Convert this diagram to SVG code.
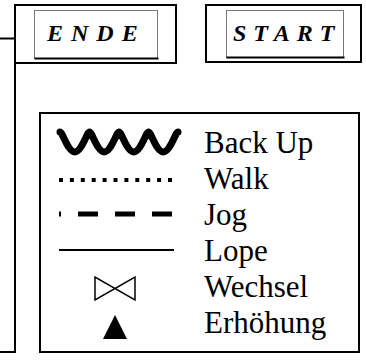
<svg xmlns="http://www.w3.org/2000/svg" width="366" height="360" viewBox="0 0 366 360">
<style>
.outer{fill:#fff;stroke:#000;stroke-width:2}
.inner{fill:#fff;stroke:#777;stroke-width:1}
.shadow{stroke:#000;stroke-width:2;fill:none}
.title{font-family:"Liberation Serif",serif;font-weight:bold;font-style:italic;font-size:24px;fill:#000}
.lbl{font-family:"Liberation Serif",serif;font-size:31px;fill:#000}
.ln{stroke:#000;stroke-width:2;fill:none}
</style>
<rect width="366" height="360" fill="#fff"/>
<g id="connectors">
<path class="ln" d="M0,38.5H15M15,63V352M0,352H16"/>
</g>
<g id="ende">
<rect class="outer" x="15" y="5" width="161" height="58"/>
<rect class="inner" x="34.5" y="10.5" width="123" height="48"/>
<path class="shadow" d="M34.5,58.5H158.5"/>
<text class="title" x="47" y="41" letter-spacing="8">ENDE</text>
</g>
<g id="start">
<rect class="outer" x="206" y="5" width="155" height="57"/>
<rect class="inner" x="226.5" y="10.5" width="117" height="47"/>
<path class="shadow" d="M226.5,57.5H344.5"/>
<text class="title" x="233" y="41" letter-spacing="7">START</text>
</g>
<g id="legend">
<rect x="40" y="113" width="319" height="239" fill="none" stroke="#000" stroke-width="2"/>
<path d="M60,132 C62.5,132 68,152 74.75,152 C81.5,152 87,132 89.5,132 C92,132 97.5,152 104.25,152 C111,152 116.5,132 119,132 C121.5,132 127,152 133.75,152 C140.5,152 146,132 148.5,132 C151,132 156.5,152 163.25,152 C170,152 175.5,132 178,132" fill="none" stroke="#000" stroke-width="7" stroke-linecap="round" stroke-linejoin="round"/>
<line x1="59" y1="180" x2="173" y2="180" stroke="#000" stroke-width="4" stroke-dasharray="4 6.9"/>
<line x1="59" y1="214" x2="61" y2="214" stroke="#000" stroke-width="5"/>
<line x1="78" y1="214" x2="173" y2="214" stroke="#000" stroke-width="5" stroke-dasharray="20 17"/>
<line x1="59" y1="250" x2="174" y2="250" stroke="#000" stroke-width="2"/>
<path d="M95,277V300L135,277V300Z" fill="none" stroke="#000" stroke-width="1.5"/>
<path d="M103,339L115,315L127,339Z" fill="#000"/>
<text class="lbl" x="204" y="153">Back Up</text>
<text class="lbl" x="204" y="189">Walk</text>
<text class="lbl" x="204" y="225">Jog</text>
<text class="lbl" x="204" y="261">Lope</text>
<text class="lbl" x="204" y="297">Wechsel</text>
<text class="lbl" x="204" y="333">Erhöhung</text>
</g>
</svg>
